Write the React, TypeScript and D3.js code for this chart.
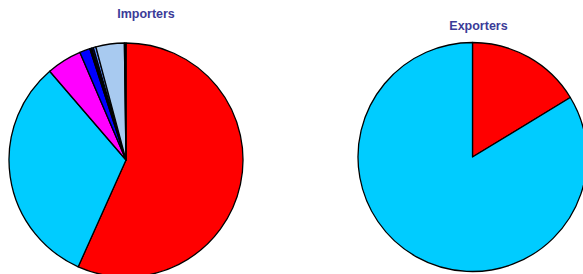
import React, { useRef, useEffect } from "react";
import * as d3 from "d3";

// importer shares, clockwise from 12 o'clock (percent)
const importerLabels = ["A", "B", "C", "D", "E", "F", "G", "H", "I"];
const importerValues = [56.7, 32.0, 4.86, 1.44, 0.25, 0.25, 0.36, 3.92, 0.22];
const importerColors = ["#ff0000", "#00ccff", "#ff00ff", "#0000ff", "#000000", "#000080", "#5b8cff", "#a8caf0", "#000000"];

// exporter shares
const exporterLabels = ["A", "B"];
const exporterValues = [16.3, 83.7];
const exporterColors = ["#ff0000", "#00ccff"];

function drawPie(g, labels, values, colors, r) {
    const data = labels.map((l, i) => ({ label: l, value: values[i], color: colors[i] }));
    const pie = d3.pie().sort(null).value((d) => d.value);
    const arc = d3.arc().innerRadius(0).outerRadius(r);
    g.selectAll("path")
        .data(pie(data))
        .join("path")
        .attr("d", arc)
        .attr("fill", (d) => d.data.color)
        .attr("stroke", "#000")
        .attr("stroke-width", 1.3)
        .attr("stroke-linejoin", "round");
}

export default function App() {
    const ref = useRef(null);

    useEffect(() => {
        const svg = d3.select(ref.current).html("");

        const left = svg.append("g").attr("transform", "translate(126,160)");
        drawPie(left, importerLabels, importerValues, importerColors, 117);

        const right = svg.append("g").attr("transform", "translate(472.5,157)");
        drawPie(right, exporterLabels, exporterValues, exporterColors, 114.5);

        const title = (x, y, t) =>
            svg.append("text")
                .attr("x", x)
                .attr("y", y)
                .attr("text-anchor", "middle")
                .attr("font-family", "Liberation Sans, Arial, sans-serif")
                .attr("font-weight", "bold")
                .attr("font-size", 12.5)
                .attr("fill", "#3b3b98")
                .text(t);
        title(146, 17.5, "Importers");
        title(478.5, 29.5, "Exporters");
    }, []);

    return (
        <svg
            ref={ref}
            width={583}
            height={274}
            style={{ position: "absolute", left: 0, top: 0, background: "#fff" }}
        />
    );
}
